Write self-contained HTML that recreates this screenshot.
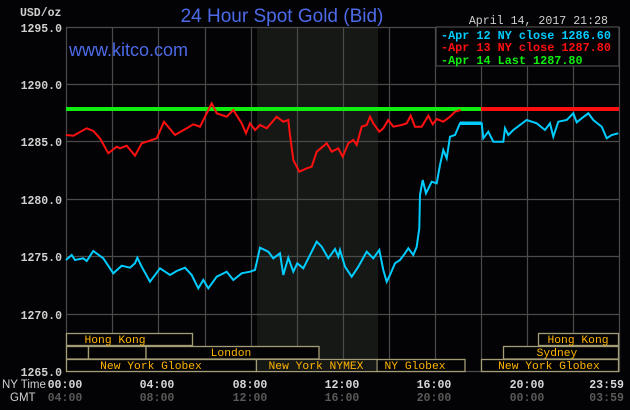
<!DOCTYPE html>
<html><head><meta charset="utf-8"><style>
html,body{margin:0;padding:0;background:#030305;}
svg{display:block}
.m{font-family:"Liberation Mono",monospace;}
</style></head><body>
<svg width="630" height="410" viewBox="0 0 630 410" xmlns="http://www.w3.org/2000/svg">
<rect width="630" height="410" fill="#030305"/>
<rect x="257" y="27" width="121" height="345" fill="#161816"/>
<g stroke="#4a4a4a" stroke-width="1.2">
<line x1="66.5" y1="27" x2="66.5" y2="372"/>
<line x1="112.5" y1="27" x2="112.5" y2="372"/>
<line x1="158.5" y1="27" x2="158.5" y2="372"/>
<line x1="205.5" y1="27" x2="205.5" y2="372"/>
<line x1="251.5" y1="27" x2="251.5" y2="372"/>
<line x1="297.5" y1="27" x2="297.5" y2="372"/>
<line x1="343.5" y1="27" x2="343.5" y2="372"/>
<line x1="389.5" y1="27" x2="389.5" y2="372"/>
<line x1="435.5" y1="27" x2="435.5" y2="372"/>
<line x1="481.5" y1="27" x2="481.5" y2="372"/>
<line x1="527.5" y1="27" x2="527.5" y2="372"/>
<line x1="573.5" y1="27" x2="573.5" y2="372"/>
<line x1="619.5" y1="27" x2="619.5" y2="372"/>
<line x1="66" y1="27.5" x2="619" y2="27.5"/>
<line x1="66" y1="84.5" x2="619" y2="84.5"/>
<line x1="66" y1="141.5" x2="619" y2="141.5"/>
<line x1="66" y1="199.5" x2="619" y2="199.5"/>
<line x1="66" y1="256.5" x2="619" y2="256.5"/>
<line x1="66" y1="314.5" x2="619" y2="314.5"/>
<line x1="66" y1="371.5" x2="619" y2="371.5"/>
</g>
<rect x="436" y="27" width="183" height="39" fill="#030305" stroke="#4a4a4a" stroke-width="1.2"/>
<text x="282" y="22" text-anchor="middle" font-family="Liberation Sans,sans-serif" font-size="19" fill="#4d6ae8">24 Hour Spot Gold (Bid)</text>
<text x="69" y="56" font-family="Liberation Sans,sans-serif" font-size="18" fill="#4d6ae8">www.kitco.com</text>
<g class="m" font-size="11.5" fill="#d0d0d0" font-weight="bold">
<text x="20" y="16">USD/oz</text>
<text x="62" y="32" text-anchor="end">1295.0</text>
<text x="62" y="89" text-anchor="end">1290.0</text>
<text x="62" y="146" text-anchor="end">1285.0</text>
<text x="62" y="204" text-anchor="end">1280.0</text>
<text x="62" y="261" text-anchor="end">1275.0</text>
<text x="62" y="319" text-anchor="end">1270.0</text>
<text x="62" y="376" text-anchor="end">1265.0</text>
</g>
<text x="608" y="24" text-anchor="end" class="m" font-size="11.6" fill="#d0d0d0">April 14, 2017 21:28</text>
<g class="m" font-size="11.8" font-weight="bold">
<text x="441" y="39" fill="#00ccff">-Apr 12 NY close 1286.60</text>
<text x="441" y="51" fill="#ff1010">-Apr 13 NY close 1287.80</text>
<text x="441" y="64" fill="#10ee10">-Apr 14 Last 1287.80</text>
</g>
<line x1="66" y1="109" x2="481" y2="109" stroke="#10ee10" stroke-width="4"/>
<line x1="481" y1="109" x2="619" y2="109" stroke="#ff1010" stroke-width="4"/>
<polyline fill="none" stroke="#ff1010" stroke-width="2" points="66,135 73.3,135.7 86.7,128.3 93.3,131 100,138.3 108.3,153.3 116.7,146.7 120,148.3 126.7,145.7 135,155.7 141.7,143.3 146.7,141.7 156.7,138.3 164,121.7 175,135 186.7,128.3 193.3,124.3 200,126.7 206.7,113.3 211.7,103.3 216.7,113.3 226.7,116.7 233.3,110 241.7,123.3 246,133.3 250,123.3 255,130 260,125 266.7,128.3 276.7,116.7 283.3,121.7 288.3,120 290,135 293.3,160 299.3,171.7 306.7,168.3 311.7,166.7 316.7,151.7 326.7,143.3 331.7,151.7 338.3,148.3 342.7,156.7 348.3,143.3 353.3,140 356.7,145 361.7,126.7 366.7,125 370,116.7 373.3,123.3 379.3,131.7 383.3,128.3 388.3,120 393.3,126.7 401.7,125 406.7,123.3 410.7,115.7 415,126.7 421.7,126.7 428.3,115.7 432.7,124.3 436.7,119 443.3,121.7 450,116.7 455,111.7 460.7,110"/>
<polyline fill="none" stroke="#00ccff" stroke-width="2" points="66,260 71.7,255 75,260 83.3,258.3 86.7,261 93.3,251 103.3,258.3 113.3,273.3 121.7,265.7 130,267.7 135,263.3 137.3,257.7 141.7,266.7 150,281.7 160,268.3 170,275 176.7,271 185,267.7 191.7,275 198.3,288.3 203.3,280 208.3,288.3 216.7,276.7 226.7,271.7 233.3,280 241.7,273.3 250,271.7 255,270 260,247.7 268.3,251.7 273.3,258.3 280,253.3 283.3,275 288.3,257.7 293.3,271.7 297.3,263.3 303.3,268.3 316.7,241.7 321.7,246.7 328.3,258.3 335,249 338.3,256.7 340,250 345,266.7 351.7,276.7 358.3,266.7 366.7,251.7 373.3,258.3 379.3,250 383.3,270 386.7,281.7 390,275 395,263.3 400,260 405,253.3 408.3,248.3 413.3,255 416.7,246.7 419.3,228.3 420,195 422.7,180 426,193.3 431.7,181.7 436.7,183.3 440,165 443.3,150 446.7,158.3 450,136.7 455,135 460,123.3 481.7,123.3 483.3,138.3 488.3,131.7 493.3,141.7 503.3,141.7 505,128.3 508.3,135 513.3,130 526.7,120 536.7,123.3 545,130 550,123.3 553.3,136.7 558.3,121.7 566.7,120 573.3,113.3 576.7,122.3 581.7,118.3 588.3,113.3 593.3,120 601.7,126.7 606.7,138.3 611.7,135 618.3,133.3"/>
<line x1="460" y1="123.3" x2="481" y2="123.3" stroke="#00ccff" stroke-width="3.5"/>
<g fill="#030305" stroke="#a49c74" stroke-width="1.3">
<rect x="66.5" y="333.5" width="126" height="12"/>
<rect x="538.5" y="333.5" width="80" height="12"/>
<rect x="66.5" y="346.5" width="22" height="12.5"/>
<rect x="88.5" y="346.5" width="57.5" height="12.5"/>
<rect x="146" y="346.5" width="173" height="12.5"/>
<rect x="503.5" y="346.5" width="115" height="12.5"/>
<rect x="66.5" y="359.5" width="190" height="12"/>
<rect x="256.5" y="359.5" width="120.5" height="12"/>
<rect x="377" y="359.5" width="88" height="12"/>
<rect x="481.5" y="359.5" width="137" height="12"/>
</g>
<rect x="257.5" y="360.2" width="119" height="10.6" fill="#161816"/>
<g class="m" font-size="11.3" fill="#ffb400" text-anchor="middle">
<text x="115" y="343">Hong Kong</text>
<text x="578" y="343">Hong Kong</text>
<text x="231" y="356">London</text>
<text x="557" y="356">Sydney</text>
<text x="151" y="369">New York Globex</text>
<text x="316" y="369">New York NYMEX</text>
<text x="415" y="369">NY Globex</text>
<text x="549" y="369">New York Globex</text>
</g>
<g font-family="Liberation Sans,sans-serif" font-size="11.5" fill="#d0d0d0">
<text x="2" y="388">NY Time</text>
<text x="10" y="401">GMT</text>
</g>
<g class="m" font-size="11.6" font-weight="bold" fill="#d8d8d8" text-anchor="middle">
<text x="65" y="388">00:00</text>
<text x="157" y="388">04:00</text>
<text x="250" y="388">08:00</text>
<text x="342" y="388">12:00</text>
<text x="434" y="388">16:00</text>
<text x="527" y="388">20:00</text>
<text x="624" y="388" text-anchor="end">23:59</text>
</g>
<g class="m" font-size="11.6" font-weight="bold" fill="#5a5a5a" text-anchor="middle">
<text x="65" y="401">04:00</text>
<text x="157" y="401">08:00</text>
<text x="250" y="401">12:00</text>
<text x="342" y="401">16:00</text>
<text x="434" y="401">20:00</text>
<text x="527" y="401">00:00</text>
<text x="624" y="401" text-anchor="end">03:59</text>
</g>
</svg>
</body></html>
